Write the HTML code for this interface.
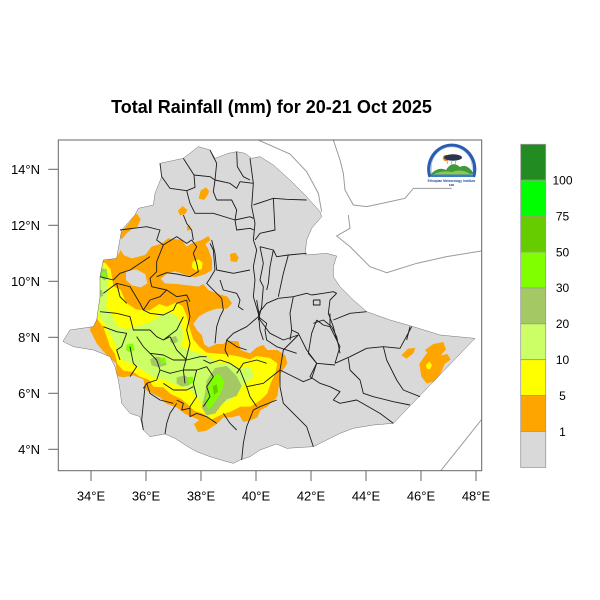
<!DOCTYPE html>
<html><head><meta charset="utf-8"><style>
html,body{margin:0;padding:0;background:#fff;}
svg{display:block;font-family:"Liberation Sans",Arial,sans-serif;}
</style></head><body>
<svg width="600" height="600" viewBox="0 0 600 600" xmlns="http://www.w3.org/2000/svg">
<rect x="0" y="0" width="600" height="600" fill="#fff"/>
<text x="271.5" y="113" font-size="18" font-weight="bold" text-anchor="middle" fill="#000">Total Rainfall (mm) for 20-21 Oct 2025</text>
<defs>
<clipPath id="frame"><rect x="58.3" y="140" width="423.4" height="330.7"/></clipPath>
<clipPath id="eth" clipPathUnits="userSpaceOnUse"><polygon id="ethp" points="40,632 60,600 80,597 130,590 140,570 150,500 150,440 160,390 200,385 205,355 215,300 255,255 265,235 310,225 315,190 335,140 330,100 400,85 445,50 480,60 495,85 535,70 560,65 585,70 605,85 630,80 670,105 720,150 770,200 810,245 815,260 785,295 770,330 765,375 830,370 860,378 850,410 850,440 870,470 910,510 950,545 1020,570 1090,590 1170,615 1275,625 1030,880 970,885 910,895 870,910 790,950 710,955 680,942 630,960 600,980 570,990 550,1000 520,992 480,980 440,965 410,948 375,925 345,912 300,920 280,900 270,860 240,850 215,820 210,780 205,750 195,710 180,680 130,660 70,650 40,635"/></clipPath>
</defs>
<g clip-path="url(#frame)">
<g transform="translate(50 130) scale(0.333333)">
<g fill="none" stroke="#9a9a9a" stroke-width="1">
<polyline vector-effect="non-scaling-stroke" points="625,30 720,72 770,125 805,190 815,245"/>
<polyline vector-effect="non-scaling-stroke" points="850,30 870,90 880,130 885,180 910,225 950,230 1020,215 1065,205 1090,175 1205,175"/>
<polyline vector-effect="non-scaling-stroke" points="895,255 900,295 860,318 900,350 960,410 1010,428 1100,400 1190,380 1300,362"/>
<polyline vector-effect="non-scaling-stroke" points="1170,1025 1230,950 1300,862"/>
</g>
<use href="#ethp" fill="#d9d9d9"/>
<g clip-path="url(#eth)">
<g fill="#ffa500">
<polygon points="140,420 155,392 178,388 200,383 212,360 222,376 245,385 285,375 305,350 335,340 355,325 395,330 410,350 425,340 455,330 475,318 482,330 466,342 476,360 486,390 486,420 466,432 435,442 405,434 375,424 350,432 332,446 345,460 380,462 415,466 445,470 460,462 475,480 505,492 532,500 546,520 532,536 500,536 470,546 446,560 430,582 442,602 456,616 462,642 476,652 500,642 520,642 530,632 565,634 572,660 600,670 620,652 640,645 652,660 682,660 706,676 712,700 692,730 686,770 682,800 652,830 632,840 622,862 600,872 580,876 568,856 545,862 520,862 500,882 470,902 444,906 432,882 448,870 430,862 405,852 380,832 350,822 330,802 310,792 290,782 285,770 280,748 250,736 220,742 200,738 198,700 180,684 160,664 140,640 120,600 130,560 125,540 130,480"/>
<polygon points="452,182 468,172 478,184 472,196 462,210 446,206"/>
<polygon points="384,242 398,228 412,240 406,252 390,256"/>
<polygon points="410,290 420,286 422,300 412,302"/>
<polygon points="240,275 250,255 262,252 272,268 262,290 245,298 230,310 215,328 208,315 220,300"/>
<polygon points="540,372 556,368 566,382 560,396 542,394"/>
<polygon points="1125,660 1150,642 1180,636 1188,658 1172,676 1192,672 1202,688 1184,702 1172,730 1152,755 1130,760 1114,740 1108,702 1120,684 1132,668"/>
<polygon points="1054,676 1074,656 1096,654 1090,670 1070,686"/>
</g>
<g fill="#d9d9d9">
<polygon points="228,425 258,418 286,432 292,460 272,472 246,466 228,450"/>
</g>
<g fill="#ffff00">
<polygon points="130,405 165,398 182,418 190,468 212,480 228,518 258,538 298,542 328,522 350,530 378,518 398,528 410,558 420,598 430,628 448,650 470,668 520,672 560,678 600,688 620,678 660,684 682,700 676,730 662,760 652,790 632,810 602,830 572,830 542,845 512,855 482,870 462,852 432,842 412,822 392,806 362,792 340,772 310,770 298,750 270,740 250,726 220,722 202,702 195,672 180,650 170,620 160,592 145,572 125,530 128,470"/>
<polygon points="428,395 445,388 458,398 455,418 438,422 425,412"/>
<polygon points="1128,705 1138,695 1146,705 1140,718 1130,716"/>
</g>
<g fill="#ccff66">
<polygon points="128,410 160,404 176,440 172,490 168,530 188,560 200,588 230,598 262,588 298,578 330,558 362,548 382,560 396,590 400,620 392,650 420,660 442,668 472,678 502,698 540,700 572,716 602,712 612,742 582,762 562,790 542,810 512,822 492,842 466,832 442,802 422,782 400,772 370,762 340,748 310,742 280,722 250,702 220,692 206,672 196,642 180,612 166,582 150,562 128,520 132,460"/>
</g>
<g fill="#a3c864">
<polygon points="495,714 530,708 560,738 575,768 560,798 530,808 512,828 496,850 470,856 455,832 465,792 470,752"/>
<polygon points="300,688 320,680 345,686 350,705 325,712 305,706"/>
<polygon points="362,622 378,618 384,634 370,642 360,635"/>
<polygon points="380,742 405,736 422,748 418,766 395,770 380,760"/>
<polygon points="152,414 170,418 174,444 162,452 150,436"/>
<polygon points="140,482 156,480 160,498 146,502"/>
</g>
<g fill="#80ff00">
<polygon points="482,742 508,732 524,756 512,790 492,820 476,838 466,820 472,782"/>
<polygon points="230,644 248,640 254,658 240,668 228,660"/>
<polygon points="410,742 428,740 432,756 418,764"/>
<polygon points="156,425 168,428 170,442 158,445"/>
<polygon points="330,684 345,682 348,698 334,702"/>
</g>
<g fill="#66cc00">
<polygon points="488,768 500,763 504,785 492,795"/>
</g>
</g>
<g fill="none" stroke="#1a1a1a" stroke-width="0.9" stroke-linejoin="round">
<polyline vector-effect="non-scaling-stroke" points="330,100 335,140 360,175 410,182 435,172 432,135 400,85"/>
<polyline vector-effect="non-scaling-stroke" points="432,135 480,140 495,150"/>
<polyline vector-effect="non-scaling-stroke" points="480,60 500,100 495,150 490,185 500,210"/>
<polyline vector-effect="non-scaling-stroke" points="560,65 562,110 580,140 600,150"/>
<polyline vector-effect="non-scaling-stroke" points="600,85 610,160 605,230 615,280 610,330 620,360 610,410 615,450 610,500 625,550"/>
<polyline vector-effect="non-scaling-stroke" points="495,150 540,160 560,175 570,155 610,160"/>
<polyline vector-effect="non-scaling-stroke" points="500,210 545,210 560,240 555,270"/>
<polyline vector-effect="non-scaling-stroke" points="410,182 420,220 435,250 490,250 555,270"/>
<polyline vector-effect="non-scaling-stroke" points="555,270 600,260 610,265"/>
<polyline vector-effect="non-scaling-stroke" points="555,270 560,300 600,295 612,300"/>
<polyline vector-effect="non-scaling-stroke" points="610,225 670,205 710,208 770,210"/>
<polyline vector-effect="non-scaling-stroke" points="670,205 675,300 630,310 615,330"/>
<polyline vector-effect="non-scaling-stroke" points="630,350 670,360 680,380 715,375 770,370"/>
<polyline vector-effect="non-scaling-stroke" points="715,375 700,430 685,500"/>
<polyline vector-effect="non-scaling-stroke" points="630,350 640,400 630,450 640,470 635,530 625,570"/>
<polyline vector-effect="non-scaling-stroke" points="670,360 660,410 655,460 650,480"/>
<polyline vector-effect="non-scaling-stroke" points="685,505 730,500 770,490 785,495 820,490 850,485 860,490"/>
<polyline vector-effect="non-scaling-stroke" points="730,500 720,550 725,600 720,630"/>
<polyline vector-effect="non-scaling-stroke" points="860,490 840,510 835,550 850,590 860,630"/>
<polyline vector-effect="non-scaling-stroke" points="790,510 810,510 810,525 790,525 790,510"/>
<polyline vector-effect="non-scaling-stroke" points="850,570 900,550 950,545"/>
<polyline vector-effect="non-scaling-stroke" points="685,505 650,520 625,550 630,600 640,630"/>
<polyline vector-effect="non-scaling-stroke" points="1080,590 1070,630"/>
<polyline vector-effect="non-scaling-stroke" points="620,510 630,570 660,610 700,630 745,615"/>
<polyline vector-effect="non-scaling-stroke" points="725,600 745,610 770,660 800,700"/>
<polyline vector-effect="non-scaling-stroke" points="800,570 785,610 775,670 800,700 855,705"/>
<polyline vector-effect="non-scaling-stroke" points="800,570 820,585 840,590 870,650 855,700"/>
<polyline vector-effect="non-scaling-stroke" points="840,590 840,550"/>
<polyline vector-effect="non-scaling-stroke" points="855,700 900,680 950,655 1000,650 1050,655 1085,590"/>
<polyline vector-effect="non-scaling-stroke" points="1000,650 1010,690 1040,750 1060,780 1110,800"/>
<polyline vector-effect="non-scaling-stroke" points="895,685 900,720 930,750 940,790 970,800 1030,815 1080,825"/>
<polyline vector-effect="non-scaling-stroke" points="800,700 780,740 810,760 840,770 870,785 850,810 870,820 920,810 990,850 1030,880"/>
<polyline vector-effect="non-scaling-stroke" points="690,720 690,770 700,820 740,860 770,890 790,950"/>
<polyline vector-effect="non-scaling-stroke" points="690,720 720,735 760,755 785,745 800,700"/>
<polyline vector-effect="non-scaling-stroke" points="745,615 700,660 690,720"/>
<polyline vector-effect="non-scaling-stroke" points="680,810 630,830 610,840 590,890 580,940 575,990"/>
<polyline vector-effect="non-scaling-stroke" points="485,330 495,370 500,420 550,430 600,420"/>
<polyline vector-effect="non-scaling-stroke" points="510,450 520,480 560,490 570,510 565,530 580,540"/>
<polyline vector-effect="non-scaling-stroke" points="625,560 650,580 645,600 650,630 680,650 740,670"/>
<polyline vector-effect="non-scaling-stroke" points="625,560 590,590 550,610 530,630 525,660 535,680"/>
<polyline vector-effect="non-scaling-stroke" points="790,580 820,570 845,590 860,620 870,670"/>
<polyline vector-effect="non-scaling-stroke" points="210,300 250,295 290,290 330,300 320,330 340,345 330,370 320,395 320,425 300,445 305,470"/>
<polyline vector-effect="non-scaling-stroke" points="340,345 380,320 410,340 425,330 440,350 430,370 440,400 445,425 420,440 380,432 350,428 320,440"/>
<polyline vector-effect="non-scaling-stroke" points="400,255 410,280 425,300 430,330"/>
<polyline vector-effect="non-scaling-stroke" points="480,340 490,360 495,420 480,445 470,460 500,490 515,505 520,540 510,560 500,590 495,640"/>
<polyline vector-effect="non-scaling-stroke" points="305,470 350,480 380,500 410,495 420,515"/>
<polyline vector-effect="non-scaling-stroke" points="160,490 200,460 240,470 270,520 280,540 300,550 340,555 370,540 380,520 410,510"/>
<polyline vector-effect="non-scaling-stroke" points="150,545 200,550 240,560 250,600 300,600 320,620 340,630 360,620"/>
<polyline vector-effect="non-scaling-stroke" points="160,590 200,605 230,610 215,650 200,660 210,690"/>
<polyline vector-effect="non-scaling-stroke" points="260,620 280,650 300,670 340,675 370,690 410,690 450,680 470,680"/>
<polyline vector-effect="non-scaling-stroke" points="410,510 420,560 410,600 420,640 410,680 400,720 405,760"/>
<polyline vector-effect="non-scaling-stroke" points="300,670 320,690 330,720 320,750 290,760 280,775"/>
<polyline vector-effect="non-scaling-stroke" points="330,720 360,730 400,720 440,720 470,710"/>
<polyline vector-effect="non-scaling-stroke" points="240,650 250,700 260,710 240,740"/>
<polyline vector-effect="non-scaling-stroke" points="460,690 480,700 510,690 540,700 570,720 590,770 600,800 620,830"/>
<polyline vector-effect="non-scaling-stroke" points="440,720 430,760 440,800 420,830 420,860 440,850"/>
<polyline vector-effect="non-scaling-stroke" points="470,710 490,740 470,770 480,800 460,830"/>
<polyline vector-effect="non-scaling-stroke" points="340,760 370,780 410,780 430,770"/>
<polyline vector-effect="non-scaling-stroke" points="285,770 280,820 275,870 280,900"/>
<polyline vector-effect="non-scaling-stroke" points="380,820 360,850 350,880 345,912"/>
<polyline vector-effect="non-scaling-stroke" points="380,810 400,820 395,840 420,835"/>
<polyline vector-effect="non-scaling-stroke" points="590,770 640,760 690,720"/>
<polyline vector-effect="non-scaling-stroke" points="530,630 560,650 590,660"/>
<polyline vector-effect="non-scaling-stroke" points="150,440 190,450 210,430 240,420 270,400 300,380"/>
<polyline vector-effect="non-scaling-stroke" points="200,460 210,500 230,520"/>
<polyline vector-effect="non-scaling-stroke" points="280,540 300,510 330,500 350,480"/>
<polyline vector-effect="non-scaling-stroke" points="340,630 380,600 400,560"/>
<polyline vector-effect="non-scaling-stroke" points="360,620 380,660 410,690"/>
<polyline vector-effect="non-scaling-stroke" points="290,760 300,790 330,810 370,820"/>
<polyline vector-effect="non-scaling-stroke" points="440,850 470,860 500,880"/>
<polyline vector-effect="non-scaling-stroke" points="520,850 540,880 560,900"/>
<polyline vector-effect="non-scaling-stroke" points="560,730 580,700 620,690 650,700"/>
</g>
<use href="#ethp" fill="none" stroke="#333" stroke-width="1" vector-effect="non-scaling-stroke"/>
</g>
</g>
<g>
<path d="M430 177 A23 24 0 1 1 473.5 177" fill="none" stroke="#2a5db0" stroke-width="3.2"/>
<path d="M432.5 175 A20.5 21 0 1 1 471 175" fill="none" stroke="#8fb0e0" stroke-width="0.6"/>
<circle cx="446" cy="158" r="3.2" fill="#f08a1a"/>
<ellipse cx="453" cy="157.5" rx="9" ry="3.2" fill="#2c3550"/>
<g stroke="#667" stroke-width="0.5"><line x1="448" y1="161" x2="447" y2="164"/><line x1="452" y1="161" x2="451" y2="164"/><line x1="456" y1="161" x2="455" y2="164"/></g>
<path d="M430 175 Q438 166 446 170 Q452 160 460 167 Q467 163 474 174 Z" fill="#3f9a3a"/>
<path d="M432 175 Q442 170 452 172 Q462 168 472 175 Z" fill="#8cc850"/>
<rect x="431" y="174.5" width="42" height="2.5" fill="#3b7cc8"/>
<text x="451.5" y="181.8" font-size="3.2" text-anchor="middle" fill="#2a4a9a" font-weight="bold">Ethiopian Meteorology Institute</text>
<text x="451.5" y="185.8" font-size="3" text-anchor="middle" fill="#2a4a9a" font-weight="bold">EMI</text>
</g>
<rect x="58.3" y="140" width="423.4" height="330.7" fill="none" stroke="#666" stroke-width="1"/>
<g stroke="#666" stroke-width="1">
<line x1="91" y1="470.7" x2="91" y2="481"/>
<line x1="146" y1="470.7" x2="146" y2="481"/>
<line x1="201" y1="470.7" x2="201" y2="481"/>
<line x1="256" y1="470.7" x2="256" y2="481"/>
<line x1="311" y1="470.7" x2="311" y2="481"/>
<line x1="366" y1="470.7" x2="366" y2="481"/>
<line x1="421" y1="470.7" x2="421" y2="481"/>
<line x1="476" y1="470.7" x2="476" y2="481"/>
<line x1="48.3" y1="169.3" x2="58.3" y2="169.3"/>
<line x1="48.3" y1="225.3" x2="58.3" y2="225.3"/>
<line x1="48.3" y1="281.3" x2="58.3" y2="281.3"/>
<line x1="48.3" y1="337.3" x2="58.3" y2="337.3"/>
<line x1="48.3" y1="393.3" x2="58.3" y2="393.3"/>
<line x1="48.3" y1="449.3" x2="58.3" y2="449.3"/>
</g>
<g font-size="13" fill="#000" text-anchor="middle">
<text x="91" y="500.5">34°E</text>
<text x="146" y="500.5">36°E</text>
<text x="201" y="500.5">38°E</text>
<text x="256" y="500.5">40°E</text>
<text x="311" y="500.5">42°E</text>
<text x="366" y="500.5">44°E</text>
<text x="421" y="500.5">46°E</text>
<text x="476" y="500.5">48°E</text>
</g>
<g font-size="13" fill="#000" text-anchor="end">
<text x="40" y="174">14°N</text>
<text x="40" y="230">12°N</text>
<text x="40" y="286">10°N</text>
<text x="40" y="342">8°N</text>
<text x="40" y="398">6°N</text>
<text x="40" y="454">4°N</text>
</g>
<g stroke="#999" stroke-width="0.8">
<rect x="520.7" y="144.3" width="25" height="35.9" fill="#228b22"/>
<rect x="520.7" y="180.2" width="25" height="35.9" fill="#00ff00"/>
<rect x="520.7" y="216.1" width="25" height="35.9" fill="#66cc00"/>
<rect x="520.7" y="252.0" width="25" height="35.9" fill="#80ff00"/>
<rect x="520.7" y="287.9" width="25" height="35.9" fill="#a3c864"/>
<rect x="520.7" y="323.8" width="25" height="35.9" fill="#ccff66"/>
<rect x="520.7" y="359.7" width="25" height="35.9" fill="#ffff00"/>
<rect x="520.7" y="395.6" width="25" height="35.9" fill="#ffa500"/>
<rect x="520.7" y="431.5" width="25" height="35.9" fill="#d9d9d9"/>
</g>
<g font-size="12" fill="#000" text-anchor="middle">
<text x="562.5" y="184.5">100</text>
<text x="562.5" y="220.4">75</text>
<text x="562.5" y="256.3">50</text>
<text x="562.5" y="292.2">30</text>
<text x="562.5" y="328.1">20</text>
<text x="562.5" y="364">10</text>
<text x="562.5" y="399.9">5</text>
<text x="562.5" y="435.8">1</text>
</g>
</svg>
</body></html>
